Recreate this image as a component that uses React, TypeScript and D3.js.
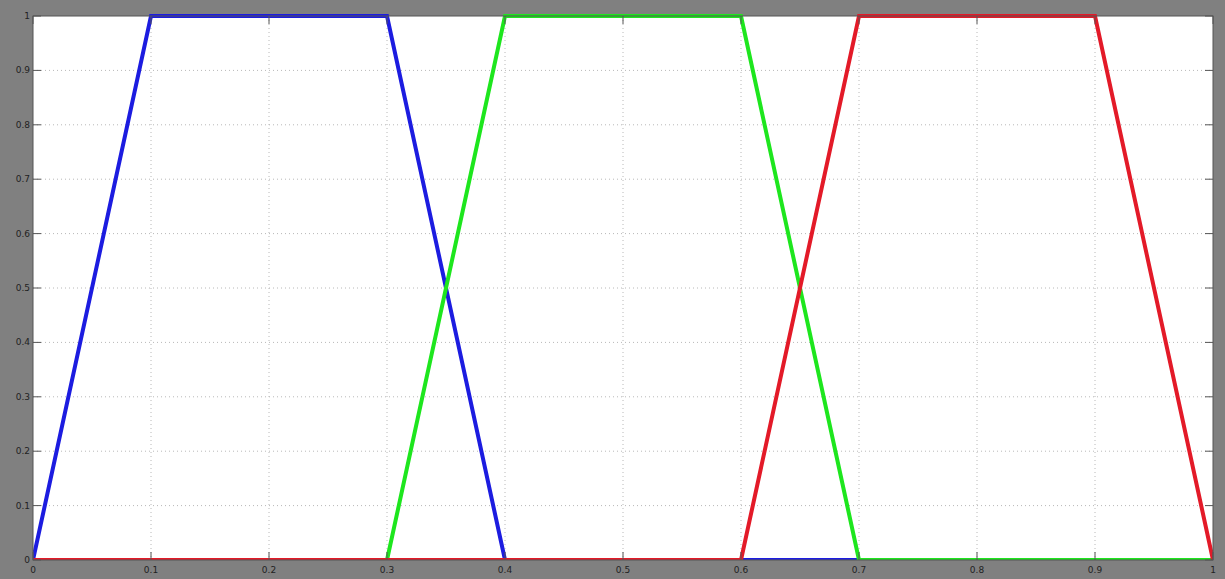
import React from "react";
import * as d3 from "d3";

const xTicks = [0, 0.1, 0.2, 0.3, 0.4, 0.5, 0.6, 0.7, 0.8, 0.9, 1];
const xTickLabels = ["0", "0.1", "0.2", "0.3", "0.4", "0.5", "0.6", "0.7", "0.8", "0.9", "1"];
const yTicks = [0, 0.1, 0.2, 0.3, 0.4, 0.5, 0.6, 0.7, 0.8, 0.9, 1];
const yTickLabels = ["0", "0.1", "0.2", "0.3", "0.4", "0.5", "0.6", "0.7", "0.8", "0.9", "1"];

const blueX = [0, 0.1, 0.3, 0.4, 1];
const blueY = [0, 1, 1, 0, 0];
const greenX = [0, 0.3, 0.4, 0.6, 0.7, 1];
const greenY = [0, 0, 1, 1, 0, 0];
const redX = [0, 0.6, 0.7, 0.9, 1];
const redY = [0, 0, 1, 1, 0];

const seriesNames = ["low", "medium", "high"];
const seriesColors = ["#1c1ce0", "#1ee61e", "#e31a28"];

export default function App() {
  const W = 1225, H = 579;
  const L = 33, R = 1213, T = 16, B = 560;
  const x = d3.scaleLinear().domain([0, 1]).range([L, R]);
  const y = d3.scaleLinear().domain([0, 1]).range([B, T]);
  const line = d3.line<[number, number]>().x(d => x(d[0])).y(d => y(d[1]));
  const series = [
    { xs: blueX, ys: blueY },
    { xs: greenX, ys: greenY },
    { xs: redX, ys: redY },
  ];
  return (
    <svg width={W} height={H} style={{ position: "absolute", left: 0, top: 0 }} fontFamily="DejaVu Sans, sans-serif">
      <defs>
        <clipPath id="plotclip">
          <rect x={L} y={T - 3} width={R - L} height={B - T + 3} />
        </clipPath>
      </defs>
      <rect x={0} y={0} width={W} height={H} fill="#808080" />
      <rect x={L} y={T} width={R - L} height={B - T} fill="#ffffff" />
      {xTicks.slice(1, -1).map((t, i) => (
        <line key={"gx" + i} x1={x(t)} x2={x(t)} y1={T} y2={B} stroke="#b8b8b8" strokeWidth={1} strokeDasharray="1 3" />
      ))}
      {yTicks.slice(1, -1).map((t, i) => (
        <line key={"gy" + i} x1={L} x2={R} y1={y(t)} y2={y(t)} stroke="#b8b8b8" strokeWidth={1} strokeDasharray="1 3" />
      ))}
      <g clipPath="url(#plotclip)">
        {series.map((s, i) => (
          <path
            key={seriesNames[i]}
            d={line(s.xs.map((v, j) => [v, s.ys[j]] as [number, number])) || ""}
            fill="none"
            stroke={seriesColors[i]}
            strokeWidth={4}
            strokeLinejoin="miter"
          />
        ))}
      </g>
      <rect x={L} y={T} width={R - L} height={B - T} fill="none" stroke="#555" strokeWidth={1} />
      {xTicks.map((t, i) => (
        <g key={"xt" + i}>
          <line x1={x(t)} x2={x(t)} y1={B} y2={B - 8} stroke="#555" strokeWidth={1} />
          <line x1={x(t)} x2={x(t)} y1={T} y2={T + 8} stroke="#555" strokeWidth={1} />
          <text x={x(t)} y={573} fontSize={9} fill="#222" textAnchor="middle">{xTickLabels[i]}</text>
        </g>
      ))}
      {yTicks.map((t, i) => (
        <g key={"yt" + i}>
          <line x1={L} x2={L + 8} y1={y(t)} y2={y(t)} stroke="#555" strokeWidth={1} />
          <line x1={R} x2={R - 8} y1={y(t)} y2={y(t)} stroke="#555" strokeWidth={1} />
          <text x={L - 3} y={y(t) + 3} fontSize={9} fill="#222" textAnchor="end">{yTickLabels[i]}</text>
        </g>
      ))}
    </svg>
  );
}
